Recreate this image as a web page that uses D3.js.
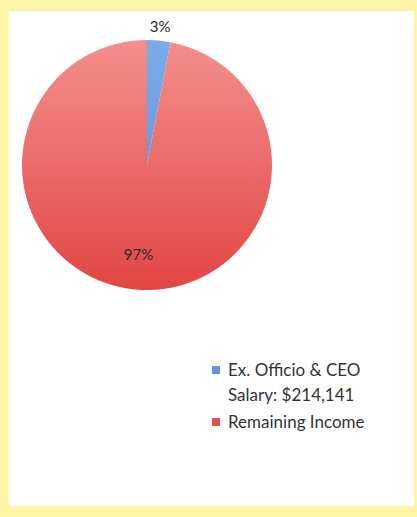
<!DOCTYPE html>
<html lang="en">
<head>
    <meta charset="UTF-8">
    <title>Salary share</title>
    <script src="https://d3js.org/d3.v7.min.js"></script>
    <style>
        body { margin: 0; background: #fdf5a6; }
        #chart { width: 417px; height: 517px; }
    </style>
</head>
<body>
    <div id="chart"></div>

    <script>
        // slice data
        var labels = ["Ex. Officio & CEO Salary: $214,141", "Remaining Income"];
        var legendLines = [["Ex. Officio & CEO", "Salary: $214,141"], ["Remaining Income"]];
        var shares = [3, 97];
        var pctText = ["3%", "97%"];

        var width = 417, height = 517;
        var cx = 147, cy = 165, radius = 125;

        var svg = d3.select("#chart")
            .append("svg")
            .attr("width", width)
            .attr("height", height);

        // white panel inside the yellow frame
        svg.append("rect")
            .attr("x", 9).attr("y", 11)
            .attr("width", 405).attr("height", 495)
            .attr("fill", "#ffffff");

        var defs = svg.append("defs");
        var grads = [
            {id: "gBlue", top: "#7cabea", bottom: "#5a8ad6"},
            {id: "gRed", top: "#f38f8d", bottom: "#e24644"}
        ];
        grads.forEach(function(g) {
            var lg = defs.append("linearGradient")
                .attr("id", g.id)
                .attr("gradientUnits", "userSpaceOnUse")
                .attr("x1", 0).attr("y1", -radius)
                .attr("x2", 0).attr("y2", radius);
            lg.append("stop").attr("offset", "0%").attr("stop-color", g.top);
            lg.append("stop").attr("offset", "100%").attr("stop-color", g.bottom);
        });
        var fills = ["url(#gBlue)", "url(#gRed)"];
        var swatch = ["#5f93dc", "#e0504e"];

        var pie = d3.pie().sort(null).value(function(d) { return d; });
        var arc = d3.arc().innerRadius(0).outerRadius(radius);
        var arcs = pie(shares);

        var g = svg.append("g")
            .attr("transform", "translate(" + cx + "," + cy + ")");

        g.selectAll("path")
            .data(arcs)
            .enter()
            .append("path")
            .attr("d", arc)
            .attr("fill", function(d, i) { return fills[i]; });

        // percentage labels: small slice outside, big slice inside
        var outArc = d3.arc().innerRadius(radius + 14).outerRadius(radius + 14);
        var inArc = d3.arc().innerRadius(radius * 0.72).outerRadius(radius * 0.72);

        g.selectAll("text.pct")
            .data(arcs)
            .enter()
            .append("text")
            .attr("class", "pct")
            .attr("transform", function(d, i) {
                var p = i === 0 ? outArc.centroid(d) : inArc.centroid(d);
                return "translate(" + p[0] + "," + p[1] + ")";
            })
            .attr("text-anchor", "middle")
            .attr("dy", "0.35em")
            .attr("font-family", "Lato, 'Open Sans', sans-serif")
            .attr("font-size", 15)
            .attr("fill", "#2a2a2a")
            .text(function(d, i) { return pctText[i]; });

        // legend
        var legY = [370, 422];
        var leg = svg.append("g").attr("transform", "translate(212,0)");
        legendLines.forEach(function(lines, i) {
            leg.append("rect")
                .attr("x", 0).attr("y", legY[i] - 4)
                .attr("width", 8).attr("height", 8)
                .attr("fill", swatch[i]);
            var t = leg.append("text")
                .attr("x", 16).attr("y", legY[i])
                .attr("font-family", "Lato, 'Open Sans', sans-serif")
                .attr("font-size", 17)
                .attr("fill", "#333333");
            lines.forEach(function(line, j) {
                t.append("tspan")
                    .attr("x", 16)
                    .attr("dy", j === 0 ? "0.35em" : 25)
                    .text(line);
            });
        });
    </script>
</body>
</html>
